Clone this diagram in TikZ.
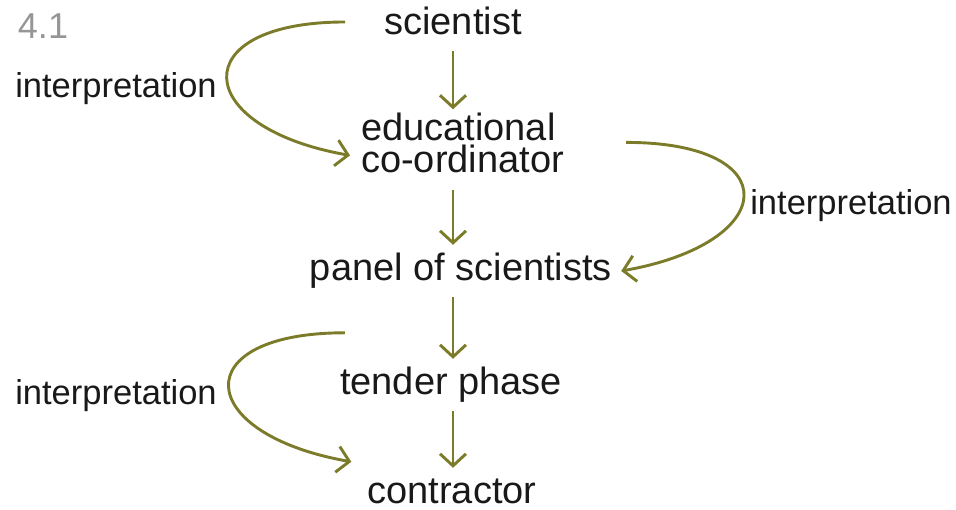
\documentclass[tikz,border=0pt]{standalone}
\usepackage{fontspec}
\setmainfont{Liberation Sans}
\usetikzlibrary{arrows.meta}
\definecolor{flowgreen}{RGB}{123,123,42}
\definecolor{figgray}{RGB}{150,150,150}
\definecolor{textblack}{RGB}{25,25,25}

\begin{document}
\begin{tikzpicture}[x=1pt, y=1pt,
    stage/.style={font=\fontsize{38}{32}\selectfont, text=textblack, text height=28pt, text depth=8pt, inner sep=8pt, anchor=base},
    remark/.style={font=\fontsize{34.5}{40}\selectfont, text=textblack, inner sep=0pt, anchor=base},
    flow/.style={draw=flowgreen, line width=2.9pt, -{Straight Barb[length=12pt, width=26pt]}}]
                \useasboundingbox (0,0) rectangle (956,510);

                \node[font=\fontsize{36}{40}\selectfont, text=figgray, inner sep=0pt, anchor=base] (fig) at (43,471) {4.1};

                % the chain
                \node[stage] (sci) at (453,475) {scientist};
                \node[font=\fontsize{38}{32}\selectfont, text=textblack, inner sep=8pt, align=left, anchor=base west] (coord) at (353,337) {educational\\co-ordinator};
                \node[stage] (panel) at (461,229) {panel of scientists};
                \node[stage] (tender) at (451,115) {tender phase};
                \node[stage, text height=34pt, text depth=0pt, inner ysep=2pt] (contr) at (452,6) {contractor};

                \draw[flow] (sci.south) -- ([yshift=-4pt]sci.south |- coord.north);
                \draw[flow] ([yshift=-8pt]sci.south |- coord.south) -- (sci.south |- panel.north);
                \draw[flow] (sci.south |- panel.south) -- (sci.south |- tender.north);
                \draw[flow] (sci.south |- tender.south) -- (sci.south |- contr.north);

                % interpretation loops
                \node[remark] (interpa) at (116,412) {interpretation};
                \node[remark] (interpb) at (851,295) {interpretation};
                \node[remark] (interpc) at (116,105) {interpretation};

                \draw[flow] ([xshift=-31pt, yshift=3pt]sci.west) to[out=180, in=170, looseness=3.1] ([xshift=-3pt, yshift=-12pt]coord.west);
                \draw[flow] ([xshift=54pt, yshift=1pt]coord.east) to[out=0, in=10, looseness=3.2] ([xshift=1pt]panel.east);
                \draw[flow] ([xshift=13pt, yshift=26pt]tender.north west) to[out=180, in=170, looseness=3.17] ([xshift=-8pt, yshift=6pt]contr.north west);
            \end{tikzpicture}
\end{document}
